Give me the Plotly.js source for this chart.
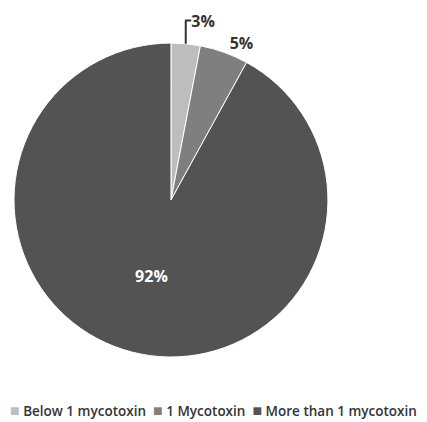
<!DOCTYPE html>
<html>
<head>
<meta charset="utf-8">
<script src="https://cdn.plot.ly/plotly-2.35.2.min.js"></script>
<style>html,body{margin:0;padding:0;background:#fff;}</style>
</head>
<body>
<div id="chart" style="width:427px;height:422px;"></div>
<script>
const categories = ["Below 1 mycotoxin", "1 Mycotoxin", "More than 1 mycotoxin"];
const values = [3, 5, 92];
const colors = ["#bdbdbd", "#7f7f7f", "#535353"];

const trace = {
  type: "pie",
  labels: categories,
  values: values,
  sort: false,
  direction: "clockwise",
  rotation: 0,
  marker: {colors: colors, line: {color: "#ffffff", width: 1}},
  textinfo: "percent",
  texttemplate: "%{percent:.0%}",
  textposition: ["outside", "outside", "inside"],
  insidetextfont: {family: "Open Sans, sans-serif", size: 16, color: "#ffffff", weight: "bold"},
  outsidetextfont: {family: "Open Sans, sans-serif", size: 16, color: "#333333", weight: "bold"},
  hoverinfo: "none",
  showlegend: false,
  domain: {x: [0.0328, 0.768], y: [0.154, 0.898]}
};

// Legend built from the same category/colour arrays as real text
const legendText = categories.map((c, i) =>
  "<span style='color:" + colors[i] + ";font-size:16px'>■</span> " + c
).join("  ");

const layout = {
  width: 427,
  height: 422,
  margin: {l: 0, r: 0, t: 0, b: 0},
  paper_bgcolor: "#ffffff",
  showlegend: false,
  annotations: [{
    xref: "paper", yref: "paper",
    x: 0.5, y: 0.028, xanchor: "center", yanchor: "middle",
    showarrow: false,
    text: legendText,
    font: {family: "Open Sans, sans-serif", size: 13.5, color: "#333333", weight: 600}
  }]
};

Plotly.newPlot("chart", [trace], layout, {displayModeBar: false, staticPlot: true});
</script>
</body>
</html>
